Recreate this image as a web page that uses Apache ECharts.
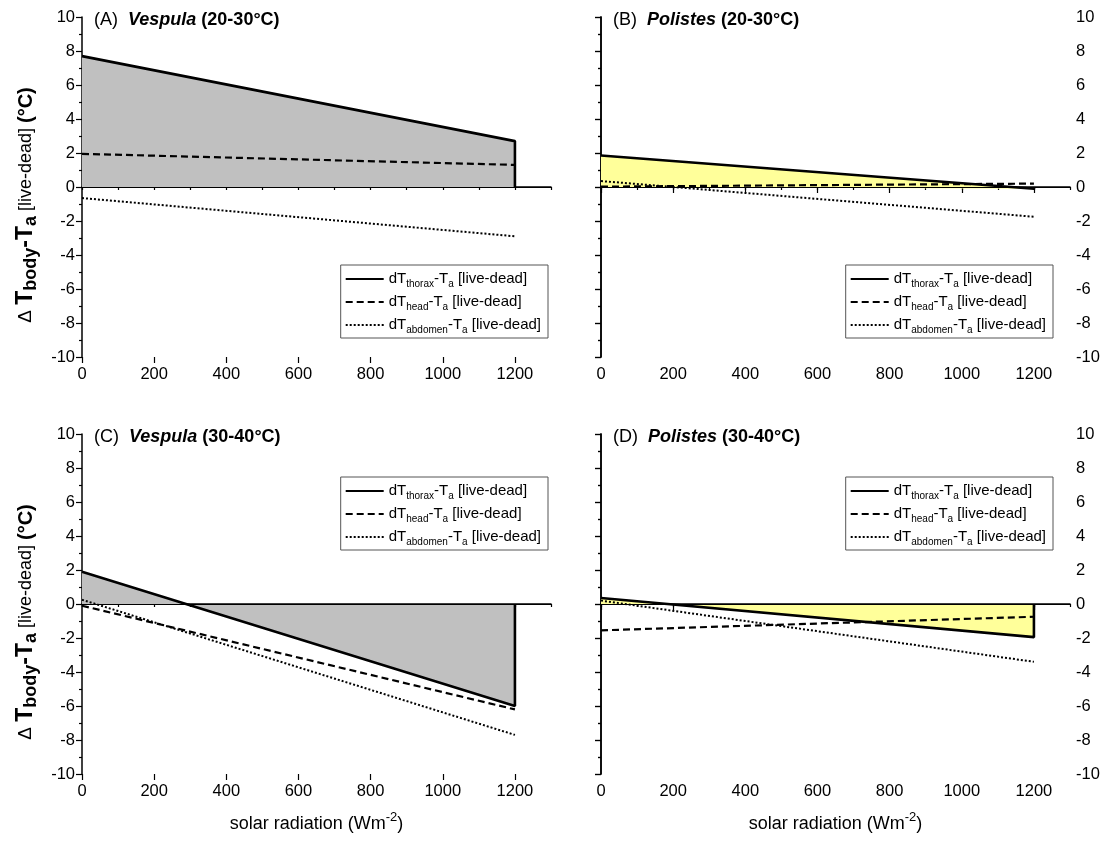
<!DOCTYPE html>
<html><head><meta charset="utf-8">
<script src="https://cdn.jsdelivr.net/npm/echarts@6.0.0/dist/echarts.min.js"></script>
<style>html,body{margin:0;padding:0;background:#fff}#c{width:1107px;height:845px}</style>
</head><body><div id="c"></div>
<script>
// ---- data ----
const radiation = [0, 1200];
const xMajorTicks = [0, 200, 400, 600, 800, 1000, 1200];
const thoraxA = [7.7, 2.7], headA = [1.95, 1.3], abdomenA = [-0.65, -2.9];
const thoraxB = [1.85, -0.1], headB = [0.02, 0.2], abdomenB = [0.35, -1.75];
const thoraxC = [1.9, -6.0], headC = [-0.1, -6.2], abdomenC = [0.25, -7.7];
const thoraxD = [0.35, -1.95], headD = [-1.55, -0.75], abdomenD = [0.2, -3.4];
const panelLetters = ['(A)', '(B)', '(C)', '(D)'];
const genera = ['Vespula', 'Polistes', 'Vespula', 'Polistes'];
const tempRanges = ['(20-30°C)', '(20-30°C)', '(30-40°C)', '(30-40°C)'];
const partNames = ['thorax', 'head', 'abdomen'];

const panels = [
  [thoraxA, headA, abdomenA],
  [thoraxB, headB, abdomenB],
  [thoraxC, headC, abdomenC],
  [thoraxD, headD, abdomenD]
];

// ---- layout / style ----
const FONT = 'Liberation Sans, Arial, sans-serif';
const grids = [
  {left: 82, top: 17, width: 469, height: 340},
  {left: 601, top: 17, width: 469, height: 340},
  {left: 82, top: 434, width: 469, height: 340},
  {left: 601, top: 434, width: 469, height: 340}
];
const fills = ['#c0c0c0', '#ffff9a', '#c0c0c0', '#ffff9a'];
const lineStyles = [
  {color: '#000', width: 2.6, type: 'solid'},
  {color: '#000', width: 2.2, type: [7, 4]},
  {color: '#000', width: 2, type: [2, 2]}
];
const axisLine = {show: true, lineStyle: {color: '#000', width: 1.5}};
const numFmt = v => String(v);

const xAxis = [], yAxis = [], series = [], title = [], legend = [];
const yLeftIdx = [];

grids.forEach((g, p) => {
  const bottomRow = p >= 2;
  const rightCol = p % 2 === 1;
  // main x axis (minor ticks every 100, labels at majors)
  xAxis.push({
    type: 'value', gridIndex: p, position: 'bottom', min: 0, max: 1300, interval: 100,
    axisLine: axisLine,
    axisTick: {show: true, length: 3, lineStyle: {color: '#000', width: 1.2}},
    axisLabel: {show: true, customValues: xMajorTicks, formatter: numFmt, fontSize: 16.5, color: '#000', fontFamily: FONT, margin: 9},
    splitLine: {show: false},
    name: bottomRow ? '{a|solar radiation (Wm}{s|-2}{a|)}' : '',
    nameLocation: 'middle', nameGap: 37,
    nameTextStyle: {
      fontFamily: FONT, color: '#000',
      rich: {
        a: {fontSize: 18, fontFamily: FONT, color: '#000', lineHeight: 26},
        s: {fontSize: 13, fontFamily: FONT, color: '#000', lineHeight: 12, verticalAlign: 'top'}
      }
    }
  });
  // overlay x axis for major ticks
  xAxis.push({
    type: 'value', gridIndex: p, position: 'bottom', min: 0, max: 1300, interval: 200,
    axisLine: {show: false},
    axisTick: {show: true, length: 6, customValues: xMajorTicks, lineStyle: {color: '#000', width: 1.2}},
    axisLabel: {show: false}, splitLine: {show: false}
  });

  const yBase = {
    type: 'value', gridIndex: p, min: -10, max: 10, interval: 2,
    axisLine: axisLine,
    axisTick: {show: true, length: 6, lineStyle: {color: '#000', width: 1.2}},
    minorTick: {show: true, splitNumber: 2, length: 3, lineStyle: {color: '#000', width: 1.2}},
    splitLine: {show: false}, minorSplitLine: {show: false}
  };
  yLeftIdx.push(yAxis.length);
  yAxis.push(Object.assign({}, yBase, {
    position: 'left',
    axisLabel: {show: !rightCol, formatter: numFmt, fontSize: 16.5, color: '#000', fontFamily: FONT, margin: 7},
    name: rightCol ? '' : '{d|Δ }{t|T}{s|body}{t|-T}{s|a}{n| [live-dead] }{t2|(°C)}',
    nameLocation: 'middle', nameGap: 42,
    nameTextStyle: {
      fontFamily: FONT, color: '#000', padding: [0, 36, 0, 0],
      rich: {
        d: {fontSize: 19, fontFamily: FONT, color: '#000', lineHeight: 28},
        t: {fontSize: 23, fontWeight: 'bold', fontFamily: FONT, color: '#000', lineHeight: 28},
        s: {fontSize: 18, fontWeight: 'bold', fontFamily: FONT, color: '#000', lineHeight: 10, verticalAlign: 'bottom'},
        n: {fontSize: 18, fontFamily: FONT, color: '#000', lineHeight: 28},
        t2: {fontSize: 20, fontWeight: 'bold', fontFamily: FONT, color: '#000', lineHeight: 28}
      }
    }
  }));
  if (rightCol) {
    yAxis.push(Object.assign({}, yBase, {
      position: 'right',
      axisTick: {show: true, inside: true, length: 6, lineStyle: {color: '#000', width: 1.2}},
      minorTick: {show: true, splitNumber: 2, length: 3, lineStyle: {color: '#000', width: 1.2}},
      axisLabel: {show: true, formatter: numFmt, fontSize: 16.5, color: '#000', fontFamily: FONT, margin: 6}
    }));
  }

  // titles
  title.push({
    text: '{n|' + panelLetters[p] + '}  {i|' + genera[p] + '} {b|' + tempRanges[p] + '}',
    left: g.left + 7, top: g.top - 11,
    textStyle: {
      fontWeight: 'normal',
      rich: {
        n: {fontSize: 18, fontFamily: FONT, color: '#000', fontWeight: 'normal'},
        i: {fontSize: 18, fontFamily: FONT, color: '#000', fontWeight: 'bold', fontStyle: 'italic'},
        b: {fontSize: 18, fontFamily: FONT, color: '#000', fontWeight: 'bold'}
      }
    }
  });

  // legends
  legend.push({
    data: partNames,
    orient: 'vertical',
    right: rightCol ? 54 : 559,
    top: bottomRow ? 477 : 265,
    itemWidth: 38, itemHeight: 12, itemGap: 3,
    padding: [4, 7, 3, 4],
    borderColor: '#555', borderWidth: 1, backgroundColor: '#fff',
    selectedMode: false,
    itemStyle: {color: 'rgba(0,0,0,0)', borderWidth: 0, opacity: 0},
    formatter: name => 'dT{s|' + name + '}-T{s|a} [live-dead]',
    textStyle: {
      fontSize: 15, fontFamily: FONT, color: '#000', lineHeight: 20,
      rich: {
        s: {fontSize: 10, fontFamily: FONT, color: '#000', lineHeight: 4, verticalAlign: 'bottom'}
      }
    }
  });

  // series
  panels[p].forEach((vals, k) => {
    const pts = radiation.map((x, i) => [x, vals[i]]);
    const s = {
      type: 'line', name: partNames[k],
      xAxisIndex: 2 * p, yAxisIndex: yLeftIdx[p],
      symbol: 'none', showSymbol: false, silent: true,
      lineStyle: lineStyles[k], z: 3 + k,
      data: pts
    };
    if (k === 0) {
      s.data = pts.concat([[radiation[radiation.length - 1], 0]]);
      s.areaStyle = {color: fills[p], opacity: 1};
      s.z = 2;
      s.markLine = {
        silent: true, symbol: 'none', label: {show: false},
        lineStyle: {color: '#000', width: 1.2, type: 'solid'},
        data: [{yAxis: 0}]
      };
    }
    series.push(s);
  });
});

const chart = echarts.init(document.getElementById('c'), null, {renderer: 'canvas'});
chart.setOption({
  animation: false,
  backgroundColor: '#fff',
  textStyle: {fontFamily: FONT},
  grid: grids,
  xAxis: xAxis,
  yAxis: yAxis,
  title: title,
  legend: legend,
  series: series
});
</script>
</body></html>
